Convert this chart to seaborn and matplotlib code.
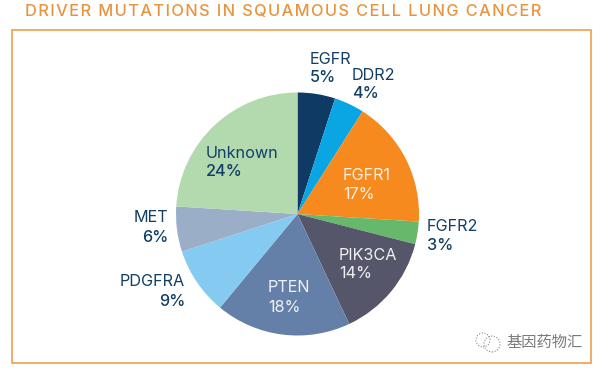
import matplotlib
matplotlib.use("Agg")
import matplotlib.pyplot as plt
from matplotlib.patches import Rectangle, Circle
import seaborn as sns

genes = ["EGFR", "DDR2", "FGFR1", "FGFR2", "PIK3CA", "PTEN", "PDGFRA", "MET", "Unknown"]
shares = [5, 4, 17, 3, 14, 18, 9, 6, 24]
slice_colors = ["#0e3a63", "#0aa5e3", "#f68a1f", "#66b96a", "#55566a",
                "#6580a8", "#85caf0", "#9aaec8", "#b3d9ae"]
title = "DRIVER MUTATIONS IN SQUAMOUS CELL LUNG CANCER"
watermark = "基因药物汇"

# label anchors in pixels: x, name y, value y, alignment, colour, value weight
NAVY = "#123f66"
label_pos = {
    "EGFR": (310, 60, 78, "left", NAVY, "medium"),
    "DDR2": (352, 76, 94, "left", NAVY, "medium"),
    "FGFR1": (343, 176, 195, "left", "#fdf0e0", "normal"),
    "FGFR2": (427, 227, 245, "left", NAVY, "medium"),
    "PIK3CA": (339, 256, 274, "left", "#f0f0f4", "normal"),
    "PTEN": (268, 288, 307, "left", "#eef2f8", "normal"),
    "PDGFRA": (185, 282, 301, "right", NAVY, "medium"),
    "MET": (168.5, 218, 237, "right", NAVY, "medium"),
    "Unknown": (206, 153, 172, "left", NAVY, "medium"),
}

W, H = 600, 370
sns.set_theme(style="white", palette=slice_colors)
plt.rcParams["font.family"] = ["Inter", "Noto Sans CJK SC", "DejaVu Sans"]


def fx(px):
    return px / W


def fy(py):
    return 1 - py / H


fig = plt.figure(figsize=(W / 100, H / 100), dpi=100, facecolor="white")

# orange frame
fig.add_artist(Rectangle((fx(12), fy(362.7)), fx(590.7) - fx(12), fy(29.5) - fy(362.7),
                         transform=fig.transFigure, fill=False,
                         edgecolor="#f2a55c", linewidth=1.3))

# pie, axes box is exactly the circle's bounding box
cx, cy, r = 297.5, 214, 121.5
ax = fig.add_axes([fx(cx - r), fy(cy + r), 2 * r / W, 2 * r / H])
ax.pie(shares, colors=sns.color_palette(slice_colors), startangle=90, counterclock=False,
       radius=1, wedgeprops={"linewidth": 0})
ax.set_xlim(-1, 1)
ax.set_ylim(-1, 1)
ax.set_aspect("auto")
ax.axis("off")

for gene, share in zip(genes, shares):
    x, y1, y2, ha, col, weight = label_pos[gene]
    fig.text(fx(x), fy(y1), gene, ha=ha, va="center", fontsize=11.7, color=col)
    fig.text(fx(x), fy(y2), f"{share}%", ha=ha, va="center", fontsize=11.7, color=col,
             fontweight=weight)

# letter spaced heading
fig.text(fx(25), fy(11.5), "\u200a".join(title), ha="left", va="center", fontsize=11.8,
         color="#e8943f", fontweight="medium")

# watermark
fig.text(fx(506), fy(342), watermark, ha="left", va="center", fontsize=11, color="#7a7a7a")
for ox, oy, rad in [(483, 340, 7), (492, 344, 8)]:
    fig.add_artist(Circle((ox, H - oy), rad, transform=None, fill=False,
                          edgecolor="#8a8a8a", linewidth=0.8, linestyle=(0, (1, 1.5))))

fig.savefig("out.png", dpi=100, facecolor="white")
plt.close(fig)
